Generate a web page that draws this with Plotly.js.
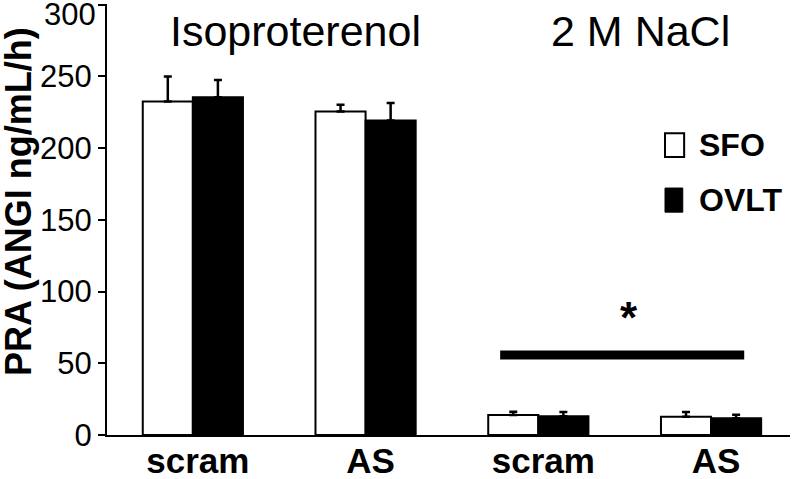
<!DOCTYPE html>
<html>
<head>
<meta charset="utf-8">
<script src="https://cdn.plot.ly/plotly-3.0.1.min.js"></script>
<style>
  html, body { margin: 0; padding: 0; background: white; }
  #graph { width: 800px; height: 479px; }
</style>
</head>
<body>
<div id="graph"></div>
<script>
// dados
const grupos = [0, 1, 2, 3];
const rotulos = ['scram', 'AS', 'scram', 'AS'];
const marcasY = [0, 50, 100, 150, 200, 250, 300];
const sfo = [232.6, 225.5, 13.9, 12.7];
const sfoErro = [17.4, 4.8, 2.3, 3.3];
const ovlt = [235.4, 219.2, 13.0, 11.6];
const ovltErro = [12.1, 12.3, 3.0, 2.5];
const zeros = [0, 0, 0, 0];

const fonte = 'Liberation Sans, Arial, sans-serif';
const yMax = marcasY[marcasY.length - 1];

const traceSfo = {
    x: grupos,
    y: sfo,
    type: 'bar',
    name: 'SFO',
    marker: { color: 'white', line: { color: 'black', width: 2 } },
    error_y: { type: 'data', symmetric: false, array: sfoErro, arrayminus: zeros,
               color: 'black', thickness: 2.5, width: 4 },
    showlegend: false
};

const traceOvlt = {
    x: grupos,
    y: ovlt,
    type: 'bar',
    name: 'OVLT',
    marker: { color: 'black', line: { color: 'black', width: 2 } },
    error_y: { type: 'data', symmetric: false, array: ovltErro, arrayminus: zeros,
               color: 'black', thickness: 2.5, width: 4 },
    showlegend: false
};

const layout = {
    width: 800,
    height: 479,
    margin: { l: 107, r: 10, t: 4, b: 44 },
    paper_bgcolor: 'white',
    plot_bgcolor: 'white',
    barmode: 'group',
    bargap: 0.42,
    bargroupgap: 0,
    font: { family: fonte, color: 'black' },
    xaxis: {
        range: [-0.497, 3.457],
        tickvals: grupos,
        ticktext: rotulos.map(t => '<b>' + t + '</b>'),
        tickfont: { size: 35, family: fonte },
        showline: true, linecolor: 'black', linewidth: 2,
        ticks: '', showgrid: false, zeroline: false,
        ticklabelstandoff: -6,
        ticklabelshift: 5
    },
    yaxis: {
        range: [0, yMax + 0.5],
        tickvals: marcasY,
        // o rótulo do topo fica deslocado para baixo, como no original
        ticktext: marcasY.map(v => v === yMax ? '' : String(v)),
        tickfont: { size: 31, family: fonte },
        showline: true, linecolor: 'black', linewidth: 2,
        ticks: 'outside', ticklen: 7, tickwidth: 2, tickcolor: 'black',
        showgrid: false, zeroline: false
    },
    shapes: [
        // barra de significância
        { type: 'line', xref: 'x', yref: 'y', x0: 1.779, x1: 3.192, y0: 55.7, y1: 55.7,
          line: { color: 'black', width: 9 } },
        // legenda
        { type: 'rect', xref: 'paper', yref: 'paper', x0: 0.817, x1: 0.845, y0: 0.645, y1: 0.700,
          fillcolor: 'white', line: { color: 'black', width: 2 } },
        { type: 'rect', xref: 'paper', yref: 'paper', x0: 0.817, x1: 0.843, y0: 0.517, y1: 0.573,
          fillcolor: 'black', line: { color: 'black', width: 1 } }
    ],
    annotations: [
        // título do eixo y
        { x: 19, y: 202, xref: 'paper', yref: 'paper', xanchor: 'center', yanchor: 'middle',
          text: '<b>PRA (ANGI ng/mL/h)</b>', textangle: -90, showarrow: false, borderpad: 0,
          font: { size: 36, family: fonte } },
        { x: -0.0146, y: yMax, xref: 'paper', yref: 'y', xanchor: 'right', yanchor: 'middle',
          yshift: -10, text: String(yMax), showarrow: false, borderpad: 0,
          font: { size: 31, family: fonte } },
        { x: 0.597, y: 281.8, xref: 'x', yref: 'y', text: 'Isoproterenol', showarrow: false,
          font: { size: 43, family: fonte } },
        { x: 2.589, y: 281.8, xref: 'x', yref: 'y', text: '2 M NaCl', showarrow: false,
          font: { size: 43, family: fonte } },
        { x: 2.523, y: 82, xref: 'x', yref: 'y', text: '<b>*</b>', showarrow: false,
          font: { size: 44, family: fonte } },
        { x: 0.864, y: 0.673, xref: 'paper', yref: 'paper', xanchor: 'left', yanchor: 'middle',
          text: '<b>SFO</b>', showarrow: false, font: { size: 32, family: fonte } },
        { x: 0.864, y: 0.545, xref: 'paper', yref: 'paper', xanchor: 'left', yanchor: 'middle',
          text: '<b>OVLT</b>', showarrow: false, font: { size: 32, family: fonte } }
    ]
};

// posição do título do eixo y em pixels -> paper
const plotW = layout.width - layout.margin.l - layout.margin.r;
const plotH = layout.height - layout.margin.t - layout.margin.b;
const tituloY = layout.annotations[0];
tituloY.x = (tituloY.x - layout.margin.l) / plotW;
tituloY.y = (layout.height - layout.margin.b - tituloY.y) / plotH;

Plotly.newPlot('graph', [traceSfo, traceOvlt], layout, { displayModeBar: false, staticPlot: true });
</script>
</body>
</html>
